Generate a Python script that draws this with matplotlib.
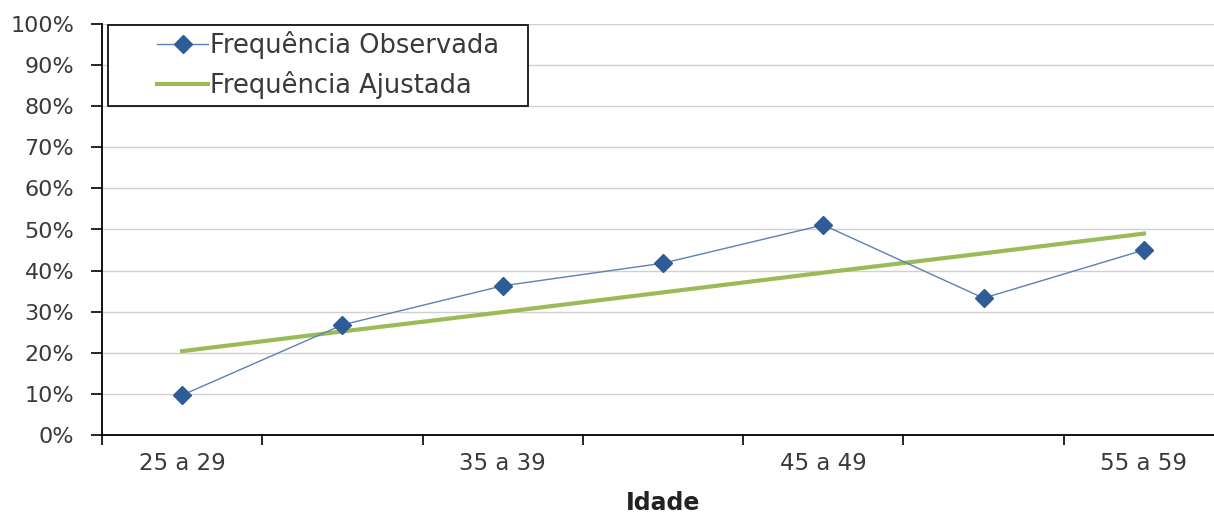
import matplotlib
matplotlib.use('Agg')
import matplotlib.pyplot as plt
from matplotlib.patches import Rectangle
import numpy as np

# faixas etarias
categorias = ['25 a 29', '30 a 34', '35 a 39', '40 a 44', '45 a 49', '50 a 54', '55 a 59']
observada = [9.7, 26.8, 36.3, 41.8, 51.1, 33.3, 45.0]
ajustada = [20.4, 25.2, 29.9, 34.7, 39.5, 44.2, 49.0]
yticks = [0, 10, 20, 30, 40, 50, 60, 70, 80, 90, 100]

plt.rcParams['font.family'] = ['DejaVu Sans']

fig = plt.figure(figsize=(12.14, 5.18), dpi=100)
W, H = 1214.0, 518.0
ax = fig.add_axes([102 / W, (H - 435) / H, (1224 - 102) / W, (435 - 24) / H])

x = np.arange(len(categorias))
ax.plot(x, observada, color='#5a82b4', lw=1.0, marker='D', markersize=9,
        markerfacecolor='#2f5c96', markeredgecolor='#2f5c96', label='Frequência Observada', zorder=3)
ax.plot(x, ajustada, color='#9bbb59', lw=3, label='Frequência Ajustada', zorder=2)

ax.set_xlim(-0.5, len(categorias) - 0.5)
ax.set_ylim(0, 100)
ax.set_yticks(yticks)
ax.set_yticklabels([f'{v}%' for v in yticks], fontsize=16, color='#3a3a3a')
ax.yaxis.grid(True, color='#d0d0d0', lw=1)
ax.set_axisbelow(True)

ax.set_xticks(x[::2])
ax.set_xticklabels(categorias[::2], fontsize=16.5, color='#3a3a3a')
ax.set_xticks(np.arange(len(categorias)) - 0.5, minor=True)
ax.tick_params(axis='x', which='major', length=0, pad=12)
ax.tick_params(axis='x', which='minor', length=7, width=1.2, direction='out')
ax.tick_params(axis='y', length=8, width=1.2, direction='out', pad=12)

for s in ['top', 'right']:
    ax.spines[s].set_visible(False)
for s in ['left', 'bottom']:
    ax.spines[s].set_linewidth(1.3)
    ax.spines[s].set_color('#000000')

ax.set_xlabel('Idade', fontsize=17, fontweight='bold', color='#222222', labelpad=12)

# caixa da legenda (estilo Excel, com margem esquerda larga)
caixa = Rectangle((108 / W, 1 - 106 / H), 420 / W, 81 / H, transform=fig.transFigure,
                  facecolor='white', edgecolor='black', lw=1.2, zorder=4, clip_on=False)
ax.add_patch(caixa)

leg = ax.legend(loc='upper left', bbox_to_anchor=(157 / W, 1 - 31 / H),
                bbox_transform=fig.transFigure, fontsize=18.5, frameon=False,
                borderpad=0, handlelength=2.0, handletextpad=0.05,
                labelspacing=0.45, borderaxespad=0.0)
leg.set_zorder(6)
for t in leg.get_texts():
    t.set_color('#3a3a3a')

fig.savefig('out.png', dpi=100)
